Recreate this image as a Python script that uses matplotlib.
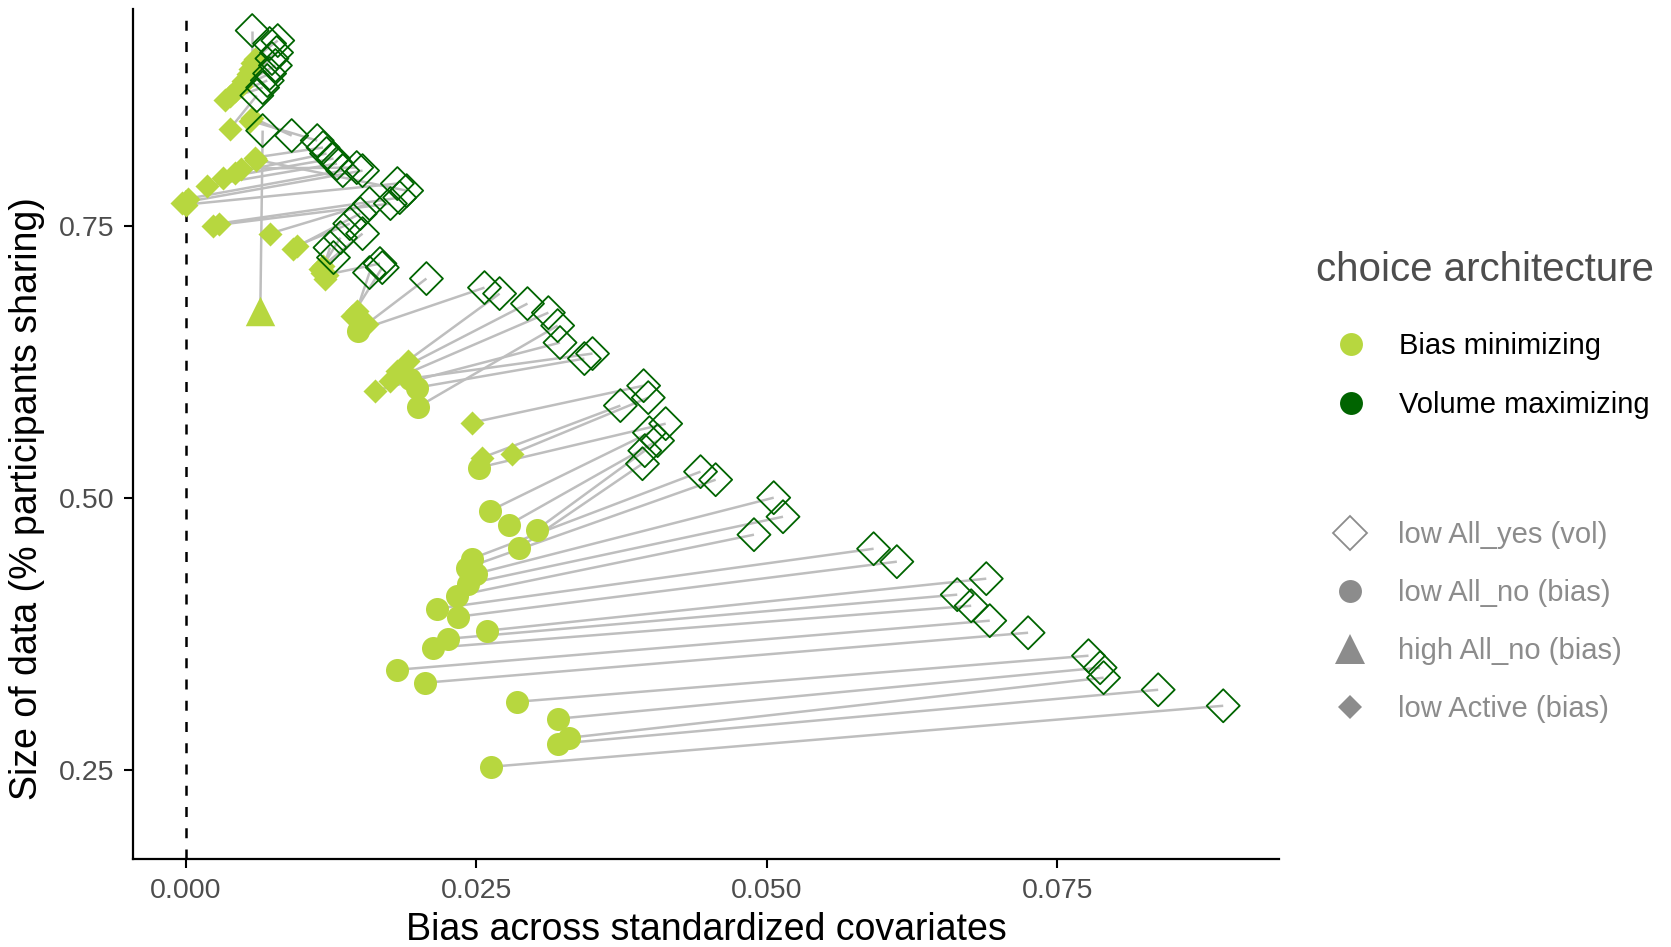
import numpy as np
import matplotlib
matplotlib.use("Agg")
import matplotlib.pyplot as plt
from matplotlib.lines import Line2D

plt.rcParams['font.family'] = ['Liberation Sans', 'DejaVu Sans']

# bias minimizing points (filled) and their volume maximizing partners (open diamonds)
bias_x = [0.0263, 0.0320, 0.0330, 0.0320, 0.0285, 0.0206, 0.0182, 0.0213, 0.0226, 0.0259,
          0.0234, 0.0216, 0.0233, 0.0243, 0.0250, 0.0242, 0.0246, 0.0287, 0.0302, 0.0278,
          0.0262, 0.0252, 0.0255, 0.0281, 0.0246, 0.0147, 0.0143, 0.0156, 0.0148, 0.0191,
          0.0182, 0.0176, 0.0163, 0.0199, 0.0193, 0.0200,
          0.0002, -0.0003, 0.0000, 0.0018, 0.0032, 0.0042, 0.0060, 0.0028, 0.0023, 0.0057,
          0.0072, 0.0092, 0.0096, 0.0118, 0.0115, 0.0120, 0.0117, 0.0121, 0.0055, 0.0059,
          0.0047,
          0.0059, 0.0057, 0.0055, 0.0053, 0.0049, 0.0047, 0.0042, 0.0038, 0.0034, 0.0038,
          0.0064]
bias_y = [0.2528, 0.2739, 0.2794, 0.2969, 0.3125, 0.3300, 0.3419, 0.3621, 0.3704, 0.3778,
          0.3906, 0.3980, 0.4099, 0.4210, 0.4302, 0.4357, 0.4439, 0.4540, 0.4706, 0.4752,
          0.4881, 0.5276, 0.5368, 0.5404, 0.5689, 0.6719, 0.6673, 0.6599, 0.6535, 0.6259,
          0.6167, 0.6075, 0.5983, 0.6011, 0.6094, 0.5836,
          0.7748, 0.7711, 0.7693, 0.7868, 0.7941, 0.7987, 0.8106, 0.7518, 0.7500, 0.8492,
          0.7426, 0.7288, 0.7316, 0.7132, 0.7105, 0.7013, 0.7068, 0.7049, 0.8465, 0.8125,
          0.8024,
          0.9035, 0.8998, 0.8943, 0.8897, 0.8833, 0.8787, 0.8741, 0.8695, 0.8658, 0.8392,
          0.6719]
vol_x = [0.0893, 0.0837, 0.0790, 0.0787, 0.0777, 0.0725, 0.0692, 0.0676, 0.0664, 0.0689,
         0.0612, 0.0592, 0.0489, 0.0514, 0.0506, 0.0456, 0.0443, 0.0393, 0.0395, 0.0406,
         0.0399, 0.0413, 0.0374, 0.0398, 0.0394, 0.0158, 0.0169, 0.0207, 0.0257, 0.0270,
         0.0294, 0.0312, 0.0322, 0.0343, 0.0350, 0.0320,
         0.0135, 0.0152, 0.0182, 0.0130, 0.0127, 0.0121, 0.0190, 0.0184, 0.0176, 0.0091,
         0.0158, 0.0150, 0.0141, 0.0133, 0.0152, 0.0127, 0.0124, 0.0167, 0.0113, 0.0118,
         0.0147,
         0.0079, 0.0057, 0.0072, 0.0078, 0.0074, 0.0077, 0.0072, 0.0070, 0.0066, 0.0061,
         0.0066]
vol_y = [0.3088, 0.3235, 0.3346, 0.3438, 0.3548, 0.3759, 0.3870, 0.4007, 0.4109, 0.4256,
         0.4412, 0.4531, 0.4660, 0.4825, 0.5000, 0.5165, 0.5239, 0.5312, 0.5432, 0.5524,
         0.5597, 0.5680, 0.5846, 0.5919, 0.6029, 0.7068, 0.7114, 0.7013, 0.6930, 0.6875,
         0.6783, 0.6700, 0.6425, 0.6278, 0.6324, 0.6581,
         0.8005, 0.8005, 0.7886, 0.8070, 0.8116, 0.8162, 0.7821, 0.7757, 0.7702, 0.8327,
         0.7702, 0.7610, 0.7518, 0.7389, 0.7426, 0.7206, 0.7298, 0.7151, 0.8281, 0.8217,
         0.8033,
         0.9200, 0.9292, 0.9173, 0.9090, 0.9035, 0.8971, 0.8897, 0.8833, 0.8768, 0.8695,
         0.8373]
# o = low All_no, D = low Active, ^ = high All_no
bias_shape = ['o'] * 22 + ['D'] * 3 + ['D', 'D', 'D', 'o', 'D', 'D', 'D', 'D', 'o', 'o', 'o'] \
             + ['D'] * 21 + ['D'] * 10 + ['^']

bias_x = np.array(bias_x)
bias_y = np.array(bias_y)
vol_x = np.array(vol_x)
vol_y = np.array(vol_y)
bias_shape = np.array(bias_shape)

light = '#b7d73f'
dark = '#006400'
grey = '#8c8c8c'

fig = plt.figure(figsize=(16.71, 9.47), dpi=100)
ax = fig.add_axes([0.0796, 0.0929, 0.6858, 0.8976])

ax.axvline(0, color='black', lw=1.8, ls=(0, (4, 4.5)), zorder=0)
ax.plot(np.vstack([bias_x, vol_x]), np.vstack([bias_y, vol_y]),
        color='#bebebe', lw=1.8, zorder=1, solid_capstyle='butt')

sizes = {'o': 275, 'D': 150, '^': 450}
for m in ['D', 'o', '^']:
    sel = bias_shape == m
    ax.scatter(bias_x[sel], bias_y[sel], s=sizes[m], marker=m, color=light,
               linewidths=0, zorder=2)
ax.scatter(vol_x, vol_y, s=283, marker='D', facecolors='none', edgecolors=dark,
           linewidths=1.3, zorder=3)

ax.set_xlim(-0.00456, 0.0941)
ax.set_ylim(0.168, 0.949)
ax.set_xticks([0, 0.025, 0.05, 0.075])
ax.set_xticklabels(['0.000', '0.025', '0.050', '0.075'])
ax.set_yticks([0.25, 0.5, 0.75])
ax.set_yticklabels(['0.25', '0.50', '0.75'])
ax.tick_params(labelsize=20.5, labelcolor='#4d4d4d', length=6.5, width=1.5, pad=7)
for s in ['top', 'right']:
    ax.spines[s].set_visible(False)
for s in ['left', 'bottom']:
    ax.spines[s].set_linewidth(1.6)
ax.set_xlabel('Bias across standardized covariates', fontsize=27, labelpad=6)
ax.set_ylabel('Size of data (% participants sharing)', fontsize=27)
ax.yaxis.set_label_coords(-0.077, 0.4246)

# legend: colour
fig.text(0.7876, 0.7153, 'choice architecture', fontsize=29, color='#4d4d4d',
         ha='left', va='center')
h1 = [Line2D([], [], ls='', marker='o', ms=16.5, color=light, mew=0),
      Line2D([], [], ls='', marker='o', ms=16.5, color=dark, mew=0)]
leg1 = ax.legend(handles=h1, labels=['Bias minimizing', 'Volume maximizing'],
                 loc='center left', bbox_to_anchor=(0.772, 0.6035),
                 bbox_transform=fig.transFigure, frameon=False, fontsize=21,
                 handlelength=2.4, handletextpad=0.45, labelspacing=1.05)
ax.add_artist(leg1)

# legend: shape
h2 = [Line2D([], [], ls='', marker='D', ms=17, mfc='none', mec=grey, mew=1.3),
      Line2D([], [], ls='', marker='o', ms=16.5, color=grey, mew=0),
      Line2D([], [], ls='', marker='^', ms=22, color=grey, mew=0),
      Line2D([], [], ls='', marker='D', ms=12.5, color=grey, mew=0)]
leg2 = ax.legend(handles=h2,
                 labels=['low All_yes (vol)', 'low All_no (bias)', 'high All_no (bias)',
                         'low Active (bias)'],
                 loc='center left', bbox_to_anchor=(0.771, 0.3432),
                 bbox_transform=fig.transFigure, frameon=False, fontsize=21,
                 handlelength=2.4, handletextpad=0.45, labelspacing=1.03,
                 labelcolor=grey)

fig.savefig('out.png', dpi=100)
